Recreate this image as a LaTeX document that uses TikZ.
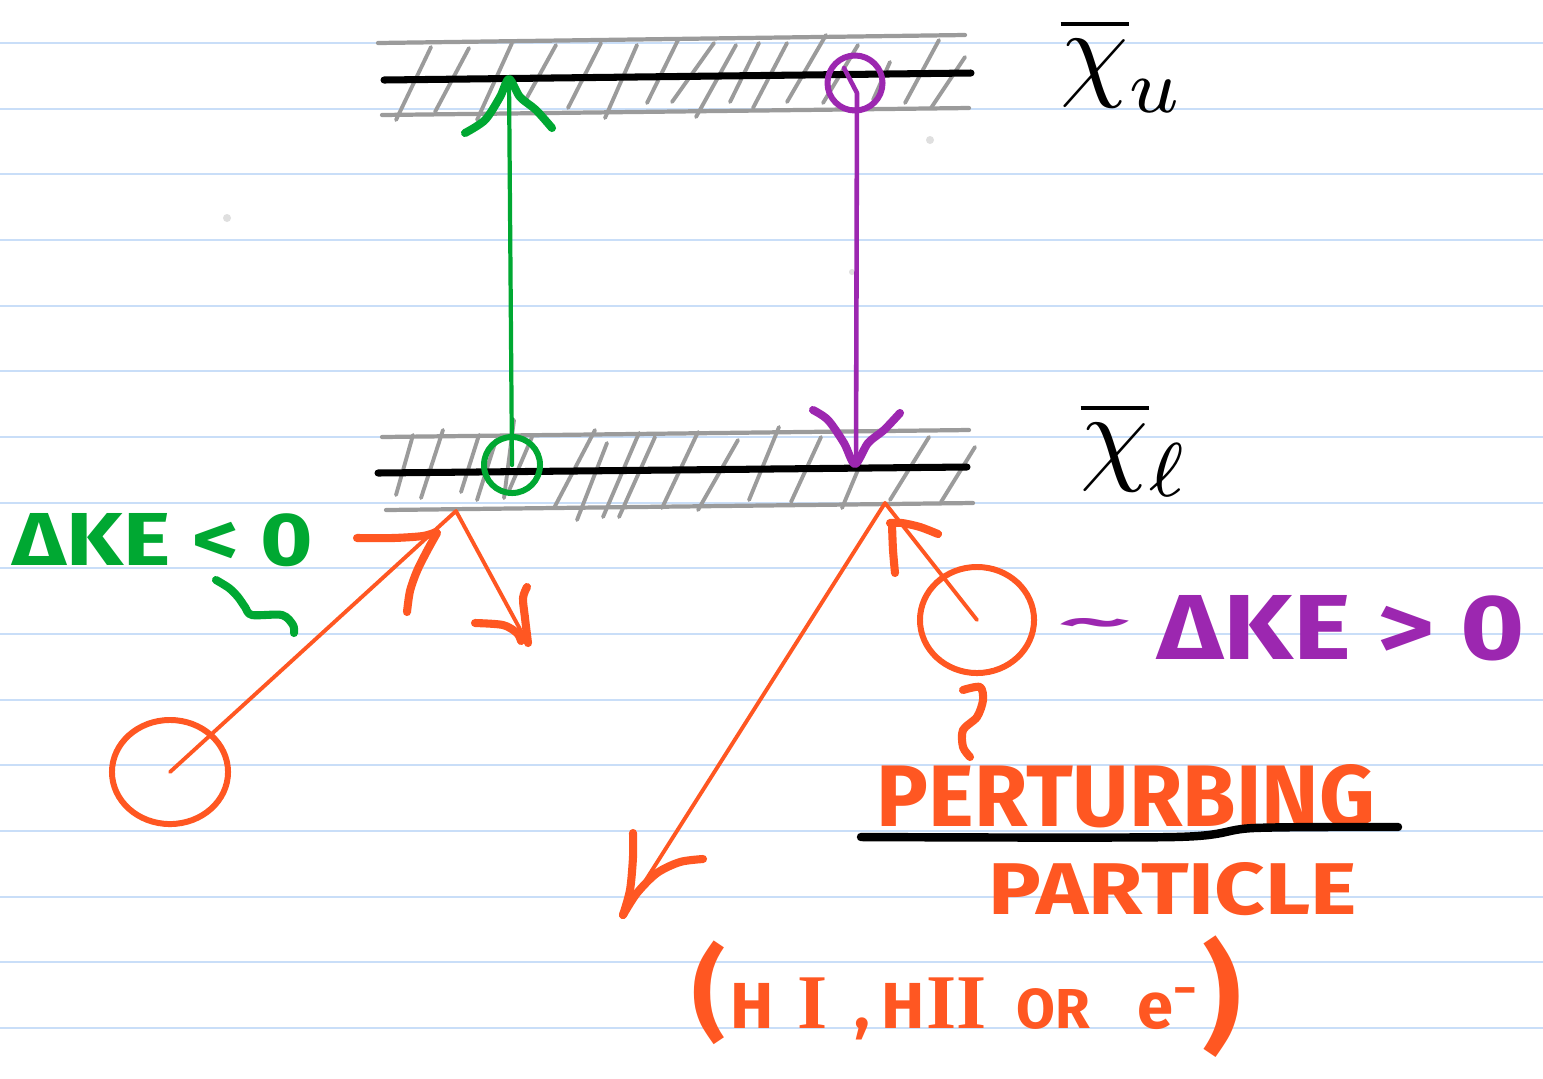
\documentclass[tikz,border=0pt]{standalone}
\usepackage{graphicx}
\usepackage{fontspec}
\setmainfont{Fira Sans}
\newfontfamily\romanI{Liberation Serif}[BoldFont={Liberation Serif Bold}]
\usetikzlibrary{shapes.geometric}
\definecolor{rulecol}{HTML}{C9DEF8}
\definecolor{hatchcol}{HTML}{9B9B9B}
\definecolor{org}{HTML}{FF5722}
\definecolor{grn}{HTML}{00A832}
\definecolor{prp}{HTML}{9C27B0}
\newcommand{\cbox}[2]{\makebox[#1][c]{#2}}
\begin{document}
\begin{tikzpicture}[x=0.01cm,y=-0.01cm, line cap=round, line join=round,
  ruleline/.style={rulecol, line width=0.6pt},
  bandline/.style={hatchcol, line width=1.2pt},
  levelline/.style={black, line width=2pt},
  hatchstroke/.style={hatchcol, line width=1.1pt},
  thinpen/.style={line width=1.1pt},
  pen/.style={line width=2.3pt},
  ringpen/.style={line width=1.7pt, inner sep=0pt},
  txt/.style={inner sep=0pt, font=\bfseries}]
\useasboundingbox[fill=white] (0,0) rectangle (1543,1078);
% ruled paper
\foreach \k in {0,...,15} \draw[ruleline] (0,{43.1+65.65*\k}) -- (1543,{43.1+65.65*\k});
% specks
\fill[gray!25] (227,218) circle[radius=0.04cm];
\fill[gray!25] (930,140) circle[radius=0.04cm];
\fill[gray!25] (852,272) circle[radius=0.03cm];
% upper band
\draw[bandline] (378,43) -- (965,35);
\draw[bandline] (382,115) -- (969,108);
\foreach \a/\b/\c/\d in {396/120/431/47, 435/112/469/48, 477/120/512/43, 524/103/556/45, 568/108/601/43, 605/118/637/45, 647/103/678/40, 672/102/714/43, 696/117/736/45, 730/102/759/43, 753/108/787/43, 787/102/826/35, 823/103/858/45, 873/100/890/62, 905/103/939/40, 931/108/965/57}
  \draw[hatchstroke] (\a,\b) -- (\c,\d);
\draw[levelline] (384,80) -- (971,73);
% lower band
\draw[bandline] (382,437) -- (969,430);
\draw[bandline] (386,510) -- (973,503);
\foreach \a/\b/\c/\d in {396/495/413/435, 421/498/443/430, 461/492/479/435, 477/500/496/440, 504/498/514/420, 508/493/532/437, 554/508/595/430, 577/520/607/443, 603/517/639/433, 619/517/655/437, 662/508/698/432, 698/510/738/440, 749/500/779/427, 791/502/821/437, 842/508/860/465, 890/500/929/437, 941/502/975/447}
  \draw[hatchstroke] (\a,\b) -- (\c,\d);
\draw[levelline] (378,473) -- (967,467);
% level labels
\node[inner sep=0pt, anchor=base west] (xu) at (1060,86) {\scalebox{3.1}{$\overline{\chi}_u$}};
\node[inner sep=0pt, anchor=base west] (xl) at (1080,470) {\scalebox{3.1}{$\overline{\chi}_\ell$}};
% green excitation
\node[draw=grn, circle, ringpen, minimum size=0.56cm] (gC) at (512,465) {};
\coordinate (gTop) at (509,80);
\draw[grn, line width=1.2pt] (gC.center) -- (gTop);
\draw[grn, pen] plot[smooth] coordinates {(465,133) (485,120) (500,97) (509,79) (520,97) (536,110) (552,128)};
% purple de-excitation
\node[draw=prp, circle, ringpen, minimum size=0.55cm] (pC) at (855,83) {};
\coordinate (pTick) at (844,68);
\coordinate (pK) at (857,93);
\coordinate (pBot) at (856,465);
\draw[prp, line width=1.3pt] (pTick) -- (pK) -- (pBot);
\draw[prp, pen] plot[smooth] coordinates {(813,410) (828,420) (844,443) (855,464) (868,443) (884,430) (900,413)};
% left perturber
\node[draw=org, ellipse, ringpen, minimum width=1.16cm, minimum height=1.04cm] (pL) at (170,772) {};
\coordinate (hitL) at (456,511);
\coordinate (outL) at (527,642);
\draw[org, thinpen] (pL.center) -- (hitL) -- (outL);
\draw[org, pen] plot[smooth] coordinates {(357,538) (393,538) (423,536) (436,532)};
\draw[org, pen] plot[smooth] coordinates {(437,533) (427,551) (417,571) (410,591) (407,612)};
\draw[org, pen] plot[smooth] coordinates {(475,623) (503,625) (517,633) (521,641)};
\draw[org, pen] plot[smooth] coordinates {(527,587) (523,598) (525,618) (528,643)};
% right perturber
\node[draw=org, ellipse, ringpen, minimum width=1.14cm, minimum height=1.06cm] (pR) at (977,620) {};
\coordinate (hitR) at (885,503);
\coordinate (outR) at (623,916);
\draw[org, thinpen] (pR.center) -- (hitR) -- (outR);
\draw[org, pen] plot[smooth] coordinates {(895,573) (893,550) (892,525)};
\draw[org, pen] plot[smooth] coordinates {(890,523) (902,523) (920,527) (938,534)};
\draw[org, pen] plot[smooth] coordinates {(633,833) (633,857) (630,890) (623,915)};
\draw[org, pen] plot[smooth] coordinates {(623,915) (637,893) (657,873) (680,862) (703,859)};
\draw[org, pen] plot[smooth] coordinates {(963,690) (980,687) (983,700) (977,717) (963,730) (963,747) (970,757)};
% green Delta KE label
\node[txt, anchor=south west, text=grn] (dkl) at (12,567) {\resizebox{3.0cm}{0.52cm}{ΔKE < 0}};
\draw[grn, pen] plot[smooth] coordinates {(216,580) (229,588) (238,597) (245,607) (252,615) (282,615) (293,625) (294,633)};
% purple Delta KE label
\node[txt, text=prp] (tilde) at (1095,628) {\resizebox{0.73cm}{0.2cm}{\textasciitilde}};
\node[txt, anchor=south west, text=prp] (dkg) at (1157,662) {\resizebox{3.67cm}{0.64cm}{ΔKE > 0}};
% perturbing particle text
\node[txt, anchor=south west, text=org] (perturb) at (876,829) {\resizebox{4.98cm}{0.62cm}{PERTURBING}};
\draw[black, line width=2.4pt] plot[smooth] coordinates {(861,837) (1175,837) (1254,828) (1398,827)};
\node[txt, anchor=south west, text=org] (particle) at (988,916) {\resizebox{3.68cm}{0.52cm}{PARTICLE}};
\node[txt, anchor=base west, text=org] (species) at (694,1028) {\fontsize{18.5}{20}\selectfont\cbox{0.28cm}{\fontsize{29}{30}\selectfont(}\cbox{0.58cm}{H}\cbox{0.64cm}{\romanI\bfseries\fontsize{22}{22}\selectfont I}\cbox{0.34cm}{,}\cbox{0.48cm}{H}\cbox{0.60cm}{\romanI\bfseries\fontsize{22}{22}\selectfont II}\cbox{1.32cm}{\fontsize{16}{17}\selectfont OR}\cbox{0.98cm}{e\textsuperscript{−}}\cbox{0.10cm}{\raisebox{-0.1cm}{\fontsize{34}{35}\selectfont)}}};
\end{tikzpicture}
\end{document}
